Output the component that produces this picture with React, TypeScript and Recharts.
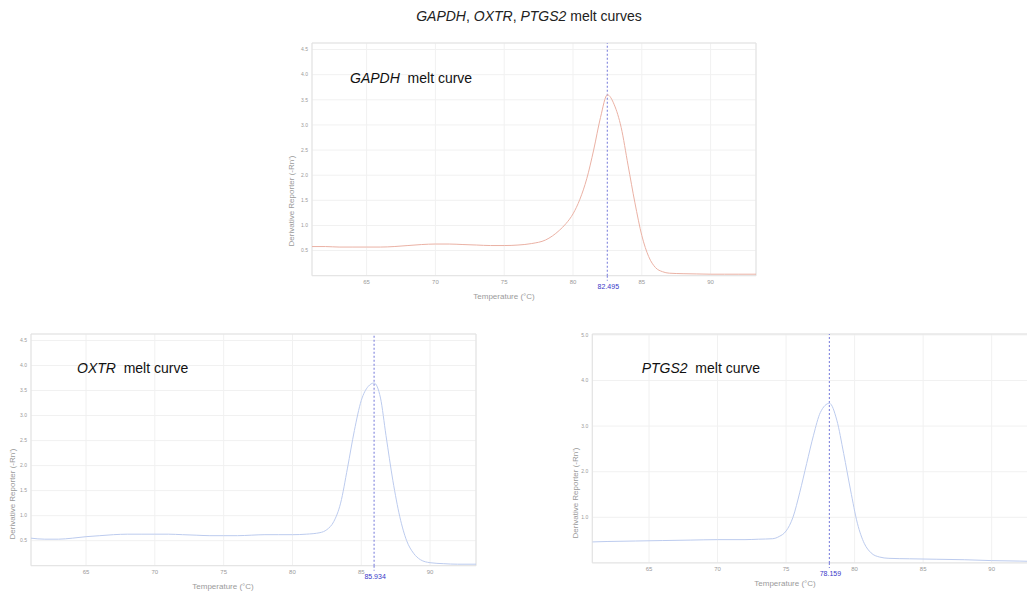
import React from 'react';
import { LineChart, Line, XAxis, YAxis, CartesianGrid, ReferenceLine, ReferenceArea } from 'recharts';

// ---- Data ----
const gapdhTemp = [61.03, 62, 63, 64, 65, 66, 67, 68, 69, 70, 71, 72, 73, 74, 75, 76, 77, 78, 78.5, 79, 79.5, 80, 80.5, 81, 81.5, 82, 82.5, 83, 83.5, 84, 84.5, 85, 85.5, 86, 86.5, 87, 88, 89, 90, 91, 92, 93.3];
const gapdhValue = [0.58, 0.58, 0.57, 0.57, 0.57, 0.57, 0.58, 0.6, 0.62, 0.63, 0.63, 0.62, 0.61, 0.6, 0.6, 0.61, 0.64, 0.71, 0.79, 0.9, 1.04, 1.23, 1.52, 1.93, 2.5, 3.15, 3.6, 3.4, 2.95, 2.2, 1.45, 0.8, 0.38, 0.16, 0.08, 0.05, 0.04, 0.035, 0.03, 0.03, 0.03, 0.03];

const oxtrTemp = [61.0, 62, 63, 64, 65, 66, 67, 68, 69, 70, 71, 72, 73, 74, 75, 76, 77, 78, 79, 80, 81, 82, 82.5, 83, 83.5, 84, 84.5, 85, 85.5, 85.93, 86.4, 86.8, 87.3, 87.8, 88.3, 88.8, 89.3, 90, 91, 92, 93.34];
const oxtrValue = [0.55, 0.53, 0.53, 0.55, 0.58, 0.6, 0.62, 0.63, 0.63, 0.63, 0.63, 0.62, 0.61, 0.6, 0.6, 0.6, 0.61, 0.62, 0.62, 0.62, 0.63, 0.66, 0.72, 0.88, 1.25, 1.95, 2.7, 3.3, 3.58, 3.65, 3.35, 2.6, 1.7, 0.98, 0.5, 0.25, 0.12, 0.06, 0.04, 0.03, 0.03];

const ptgs2Temp = [60.86, 62, 64, 66, 68, 70, 72, 73, 74, 74.5, 75, 75.5, 76, 76.5, 77, 77.5, 78.16, 78.7, 79.2, 79.7, 80.2, 80.7, 81.2, 81.8, 82.5, 84, 86, 88, 90, 92, 93.4];
const ptgs2Value = [0.46, 0.47, 0.48, 0.49, 0.5, 0.51, 0.51, 0.52, 0.53, 0.58, 0.7, 1.0, 1.55, 2.18, 2.8, 3.3, 3.5, 3.13, 2.4, 1.6, 0.87, 0.43, 0.22, 0.13, 0.1, 0.09, 0.08, 0.07, 0.05, 0.04, 0.03];

const xTicks = [65, 70, 75, 80, 85, 90];
const yTicksHalf = [0.5, 1.0, 1.5, 2.0, 2.5, 3.0, 3.5, 4.0, 4.5];
const yTicksWhole = [1.0, 2.0, 3.0, 4.0, 5.0];

const peaks = { gapdh: 82.495, oxtr: 85.934, ptgs2: 78.159 };

const build = (t: number[], v: number[]) => t.map((x, i) => ({ t: x, v: v[i] }));

const FONT = '"Liberation Sans", Arial, Helvetica, sans-serif';
const GREY = '#9a9a9a';
const PEAK_COLOR = '#8a8ee0';

const PeakLabel = (props: any) => {
  const vb = props.viewBox;
  if (!vb) return null;
  const x = vb.x;
  const y = vb.y + vb.height;
  return (
    <g>
      <line x1={x} x2={x} y1={y} y2={y + 5} stroke={PEAK_COLOR} strokeWidth={1.2} strokeDasharray="2 2" />
      <text x={x + 1} y={y + 13.5} textAnchor="middle" fontSize={7} fill="#3838c8" fontFamily={FONT}>
        {props.txt}
      </text>
    </g>
  );
};

interface PanelProps {
  left: number; top: number; width: number; height: number;
  plotLeft: number; plotTop: number; plotRight: number; plotBottom: number;
  xDomain: [number, number]; yDomain: [number, number]; yTicks: number[];
  data: { t: number; v: number }[]; color: string; peak: number;
}

const Panel = (p: PanelProps) => {
  const mt = p.plotTop - p.top;
  const yw = p.plotLeft - p.left;
  const mr = p.left + p.width - p.plotRight;
  const xh = p.top + p.height - p.plotBottom;
  return (
    <div style={{ position: 'absolute', left: p.left, top: p.top, width: p.width, height: p.height }}>
      <LineChart width={p.width} height={p.height} data={p.data} margin={{ top: mt, right: mr, bottom: 0, left: 0 }}>
        <CartesianGrid stroke="#f1f1f1" strokeWidth={1} />
        <XAxis
          dataKey="t" type="number" domain={p.xDomain} ticks={xTicks} allowDataOverflow
          height={xh} tickLine={false} axisLine={false} tickSize={1} tickMargin={3}
          tick={{ fontSize: 6, fill: GREY, fontFamily: FONT }} interval={0}
        />
        <YAxis
          type="number" domain={p.yDomain} ticks={p.yTicks} allowDataOverflow
          width={yw} tickLine={false} axisLine={false} tickSize={2} tickMargin={2}
          tick={{ fontSize: 5, fill: GREY, fontFamily: FONT }} interval={0}
          tickFormatter={(v: number) => v.toFixed(1)}
        />
        <ReferenceArea x1={p.xDomain[0]} x2={p.xDomain[1]} y1={p.yDomain[0]} y2={p.yDomain[1]}
          fill="none" fillOpacity={0} stroke="#e2e2e2" strokeWidth={1} ifOverflow="visible" />
        <ReferenceLine x={p.peak} stroke={PEAK_COLOR} strokeWidth={1.2} strokeDasharray="2 2"
          label={<PeakLabel txt={p.peak.toFixed(3)} />} />
        <Line dataKey="v" type="monotone" stroke={p.color} strokeWidth={1} dot={false} isAnimationActive={false} />
      </LineChart>
    </div>
  );
};

const txt = (style: React.CSSProperties, children: React.ReactNode) => (
  <div style={{ position: 'absolute', whiteSpace: 'nowrap', fontFamily: FONT, ...style }}>{children}</div>
);

const XTitle = (cx: number, cy: number) =>
  txt({ left: cx, top: cy, transform: 'translate(-50%,-50%)', fontSize: 8, color: GREY, lineHeight: '10px' }, 'Temperature (°C)');
const YTitle = (cx: number, cy: number) =>
  txt({ left: cx, top: cy, transform: 'translate(-50%,-50%) rotate(-90deg)', fontSize: 8, color: GREY, lineHeight: '10px' }, "Derivative Reporter (-Rn')");

export default function App() {
  return (
    <div style={{ position: 'absolute', left: 0, top: 0, width: 1027, height: 595, overflow: 'hidden', background: '#fff', fontFamily: FONT }}>
      {txt({ left: 329, width: 400, top: 8, textAlign: 'center', fontSize: 14, lineHeight: '16px', color: '#222' },
        <><i>GAPDH</i>, <i>OXTR</i>, <i>PTGS2</i> melt curves</>)}

      <Panel left={280} top={30} width={486} height={280}
        plotLeft={312} plotTop={43} plotRight={756} plotBottom={275.7}
        xDomain={[61.03, 93.3]} yDomain={[0, 4.63]} yTicks={yTicksHalf}
        data={build(gapdhTemp, gapdhValue)} color="#eab1a4" peak={peaks.gapdh} />

      <Panel left={0} top={325} width={486} height={270}
        plotLeft={31} plotTop={334} plotRight={476} plotBottom={565.7}
        xDomain={[61.0, 93.34]} yDomain={[0, 4.63]} yTicks={yTicksHalf}
        data={build(oxtrTemp, oxtrValue)} color="#bccbee" peak={peaks.oxtr} />

      <Panel left={540} top={325} width={505} height={270}
        plotLeft={592.3} plotTop={334} plotRight={1038.3} plotBottom={562.9}
        xDomain={[60.86, 93.4]} yDomain={[0, 5.02]} yTicks={yTicksWhole}
        data={build(ptgs2Temp, ptgs2Value)} color="#bccbee" peak={peaks.ptgs2} />

      {txt({ left: 350, top: 70, fontSize: 14, lineHeight: '16px', color: '#111' }, <><i>GAPDH</i>&nbsp; melt curve</>)}
      {txt({ left: 77, top: 359.7, fontSize: 14, lineHeight: '16px', color: '#111' }, <><i>OXTR</i>&nbsp; melt curve</>)}
      {txt({ left: 641.7, top: 359.7, fontSize: 14, lineHeight: '16px', color: '#111' }, <><i>PTGS2</i>&nbsp; melt curve</>)}

      {XTitle(504, 296.7)}
      {XTitle(223, 587)}
      {XTitle(785, 584)}
      {YTitle(292, 201)}
      {YTitle(13, 494)}
      {YTitle(576, 493)}
    </div>
  );
}
